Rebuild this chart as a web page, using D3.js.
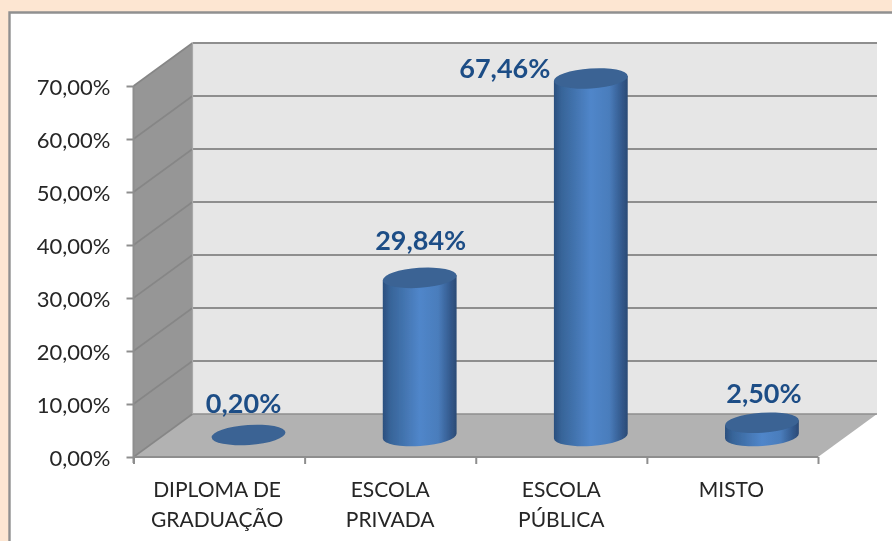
<!DOCTYPE html>
<html><head><meta charset="utf-8">
<script src="https://d3js.org/d3.v7.min.js"></script>
<style>html,body{margin:0;padding:0;background:#fde6d2;overflow:hidden}svg{display:block}</style>
</head><body><svg id="c" width="892" height="541"></svg>
<script>
const categories = ["DIPLOMA DE|GRADUAÇÃO","ESCOLA|PRIVADA","ESCOLA|PÚBLICA","MISTO"];
const values = [0.20, 29.84, 67.46, 2.50];
const yTicks = [0,10,20,30,40,50,60,70];

const svg = d3.select("#c");
const FONT = "Lato, Carlito, sans-serif";
const W=892,H=541;
const xL=133.5,xR=818,yB=457,yT=86,dx=59,dy=-43;
const x = d3.scaleBand().domain(categories).range([xL,xR]).padding(0);
const y = d3.scaleLinear().domain([0,70]).range([yB,yT]);
const fmt = v => d3.format(".2f")(v).replace(".",",")+"%";
const LINE="#8e8e8e";

const defs = svg.append("defs");
const g = defs.append("linearGradient").attr("id","cyl");
[[0,"#2b4f7e"],[0.1,"#376498"],[0.5,"#5086ca"],[0.75,"#4a7dbc"],[0.92,"#33598c"],[1,"#2b4a75"]].forEach(s=>g.append("stop").attr("offset",s[0]).attr("stop-color",s[1]));
defs.append("filter").attr("id","soft").append("feGaussianBlur").attr("stdDeviation",0.55);

// panel
svg.append("rect").attr("width",W).attr("height",H).attr("fill","#fde6d2");
svg.append("path").attr("d",`M9.5,${H+3}V12.5H${W+3}V${H+3}Z`).attr("fill","#fff").attr("stroke","#909090").attr("stroke-width",2.4);

const root = svg.append("g").attr("filter","url(#soft)");
const line = d3.line();
// walls
root.append("path").attr("d",line([[xL+dx,y(70)+dy],[xR+dx,y(70)+dy],[xR+dx,y(0)+dy],[xL+dx,y(0)+dy]])+"Z").attr("fill","#e6e6e6");
root.append("path").attr("d",line([[xL,y(70)],[xL+dx,y(70)+dy],[xL+dx,y(0)+dy],[xL,y(0)]])+"Z").attr("fill","#969696");
root.append("path").attr("d",line([[xL,y(0)],[xL+dx,y(0)+dy],[xR+dx,y(0)+dy],[xR,y(0)]])+"Z").attr("fill","#b2b2b2");
// gridlines: side wall part, then back wall part
yTicks.forEach(t=>{
  root.append("path").attr("d",line([[xL,y(t)],[xL+dx,y(t)+dy]])).attr("fill","none").attr("stroke","#868686").attr("stroke-width",1.6);
  root.append("path").attr("d",line([[xL+dx,y(t)+dy],[xR+dx,y(t)+dy]])).attr("fill","none").attr("stroke",LINE).attr("stroke-width",t===0?1.6:2);
});
root.append("path").attr("d",line([[xL+dx,y(70)+dy],[xL+dx,y(0)+dy]])).attr("stroke","#a8a8a8").attr("stroke-width",1.2);

// axes
const axL = root.append("g").attr("transform",`translate(${xL},0)`).call(d3.axisLeft(y).tickValues(yTicks).tickFormat(fmt).tickSize(7).tickPadding(16));
axL.select(".domain").attr("stroke",LINE).attr("stroke-width",2).attr("d",`M0,${y(70)}V${y(0)+6}`);
axL.selectAll(".tick line").attr("stroke",LINE).attr("stroke-width",2);
axL.selectAll("text").attr("font-family",FONT).attr("font-size",22).attr("fill","#262626").attr("dy",".4em");

const edges = categories.map(c=>x(c)).concat([xR]);
const xEdge = d3.scaleIdentity().domain([xL,xR]);
const axB = root.append("g").attr("transform",`translate(0,${yB})`).call(d3.axisBottom(xEdge).tickValues(edges).tickFormat("").tickSize(7));
axB.select(".domain").attr("stroke",LINE).attr("stroke-width",2).attr("d",`M${xL},0H${xR}`);
axB.selectAll(".tick line").attr("stroke",LINE).attr("stroke-width",2);

// category labels
const catNudge = [-2,0,0,-1];
categories.forEach((c,k)=>{
  const t = root.append("text").attr("font-family",FONT).attr("font-size",21).attr("fill","#262626").attr("text-anchor","middle");
  c.split("|").forEach((s,i)=>t.append("tspan").attr("x",x(c)+x.bandwidth()/2+catNudge[k]).attr("y",497+i*30).text(s));
});

// cylinders
const rx=37, ry=10, ang=-4;
const rad=ang*Math.PI/180;
const ex=rx*Math.cos(rad), ey=rx*Math.sin(rad);
const baseY = yB+dy/2+0.5;
const hScale = d3.scaleLinear().domain([0,70]).range([0,yB-yT]);
const labelNudge = [[-5,-22],[1,-28],[-86,0],[2,-20]];
const labelColor="#1f4e86";
categories.forEach((c,i)=>{
  const cx = x(c)+x.bandwidth()/2+dx/2;
  const ty = baseY-hScale(values[i]);
  const G = root.append("g");
  if(hScale(values[i])>2){
    G.append("path").attr("d",
      `M${cx-ex},${ty-ey}L${cx-ex},${baseY-ey}A${rx},${ry} ${ang} 0 0 ${cx+ex},${baseY+ey}L${cx+ex},${ty+ey}Z`)
      .attr("fill","url(#cyl)");
  }
  G.append("ellipse").attr("cx",cx).attr("cy",ty).attr("rx",rx).attr("ry",ry)
    .attr("transform",`rotate(${ang} ${cx} ${ty})`).attr("fill","#3a6394");
  root.append("text").attr("x",cx+labelNudge[i][0]).attr("y",ty+labelNudge[i][1])
    .attr("text-anchor","middle").attr("font-family",FONT).attr("font-weight",700).attr("font-size",27)
    .attr("fill",labelColor).text(fmt(values[i]));
});
</script></body></html>
